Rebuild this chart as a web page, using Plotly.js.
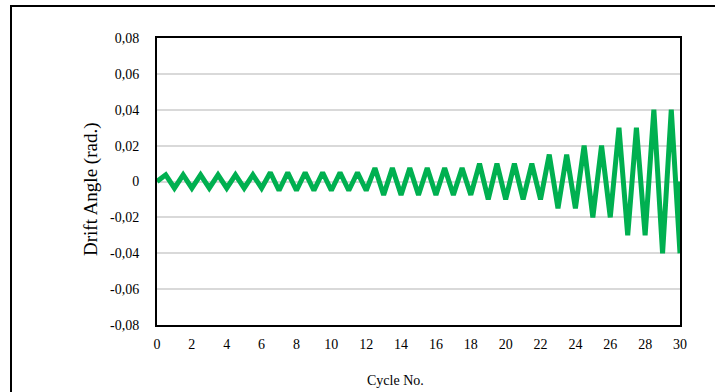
<!DOCTYPE html>
<html>
<head>
<meta charset="utf-8">
<script src="https://cdn.plot.ly/plotly-3.0.1.min.js"></script>
<style>
html, body { margin: 0; padding: 0; background: #fff; }
#chart { width: 715px; height: 392px; }
</style>
</head>
<body>
<div id="chart"></div>
<script>
// Cycle number (x) for each turning point of the loading history
const cycleNo = [0,0.5,1,1.5,2,2.5,3,3.5,4,4.5,5,5.5,6,6.5,7,7.5,8,8.5,9,9.5,10,10.5,11,11.5,12,12.5,13,13.5,14,14.5,15,15.5,16,16.5,17,17.5,18,18.5,19,19.5,20,20.5,21,21.5,22,22.5,23,23.5,24,24.5,25,25.5,26,26.5,27,27.5,28,28.5,29,29.5,30,30];
// Drift angle (rad.) at each turning point
const driftAngle = [0,
  0.00375,-0.00375, 0.00375,-0.00375, 0.00375,-0.00375, 0.00375,-0.00375, 0.00375,-0.00375, 0.00375,-0.00375,
  0.005,-0.005, 0.005,-0.005, 0.005,-0.005, 0.005,-0.005, 0.005,-0.005, 0.005,-0.005,
  0.0075,-0.0075, 0.0075,-0.0075, 0.0075,-0.0075, 0.0075,-0.0075, 0.0075,-0.0075, 0.0075,-0.0075,
  0.01,-0.01, 0.01,-0.01, 0.01,-0.01, 0.01,-0.01,
  0.015,-0.015, 0.015,-0.015,
  0.02,-0.02, 0.02,-0.02,
  0.03,-0.03, 0.03,-0.03,
  0.04,-0.04, 0.04,-0.04,
  0];

const xTickVals = [0,2,4,6,8,10,12,14,16,18,20,22,24,26,28,30];
const xTickText = ["0","2","4","6","8","10","12","14","16","18","20","22","24","26","28","30"];
const yTickVals = [-0.08,-0.06,-0.04,-0.02,0,0.02,0.04,0.06,0.08];
const yTickText = ["-0,08","-0,06","-0,04","-0,02","0","0,02","0,04","0,06","0,08"];

const FONT = "Liberation Serif, Times New Roman, serif";

const trace = {
  x: cycleNo,
  y: driftAngle,
  type: 'scatter',
  mode: 'lines',
  line: { color: '#00B050', width: 5 },
  hoverinfo: 'skip',
  cliponaxis: true
};

const L = 157, R = 680, T = 38, B = 325, W = 715, H = 392;
const pw = R - L, ph = B - T;
function px2x(p) { return (p - L) / pw; }
function px2y(p) { return (B - p) / ph; }

const layout = {
  width: W, height: H,
  margin: { l: L, r: W - R, t: T, b: H - B, pad: 0 },
  paper_bgcolor: '#ffffff',
  plot_bgcolor: '#ffffff',
  showlegend: false,
  font: { family: FONT, size: 14, color: '#000' },
  xaxis: {
    range: [0, 30],
    tickvals: xTickVals, ticktext: xTickText,
    showgrid: false, zeroline: false,
    showline: true, mirror: true, linecolor: '#000', linewidth: 2,
    ticks: '', ticklabelstandoff: 5,
    tickfont: { family: FONT, size: 14, color: '#000' },
    fixedrange: true
  },
  yaxis: {
    range: [-0.08, 0.08],
    tickvals: yTickVals, ticktext: yTickText,
    showgrid: true, gridcolor: '#d9d9d9', gridwidth: 2,
    zeroline: false,
    showline: true, mirror: true, linecolor: '#000', linewidth: 2,
    ticks: '', ticklabelstandoff: 13,
    tickfont: { family: FONT, size: 14, color: '#000' },
    fixedrange: true
  },
  annotations: [{
    text: 'Cycle No.', xref: 'paper', yref: 'paper',
    x: px2x(395), y: px2y(380), xanchor: 'center', yanchor: 'middle',
    showarrow: false, font: { family: FONT, size: 14, color: '#000' }
  }, {
    text: 'Drift Angle (rad.)', xref: 'paper', yref: 'paper',
    x: px2x(91), y: px2y(190), xanchor: 'center', yanchor: 'middle', textangle: -90,
    showarrow: false, font: { family: FONT, size: 19, color: '#000' }
  }],
  shapes: [{
    type: 'rect', xref: 'paper', yref: 'paper',
    x0: px2x(11), x1: px2x(720), y0: px2y(400), y1: px2y(6),
    line: { color: '#000', width: 2 }, fillcolor: 'rgba(0,0,0,0)', layer: 'below'
  }]
};

Plotly.newPlot('chart', [trace], layout, { displayModeBar: false, staticPlot: true });
</script>
</body>
</html>
